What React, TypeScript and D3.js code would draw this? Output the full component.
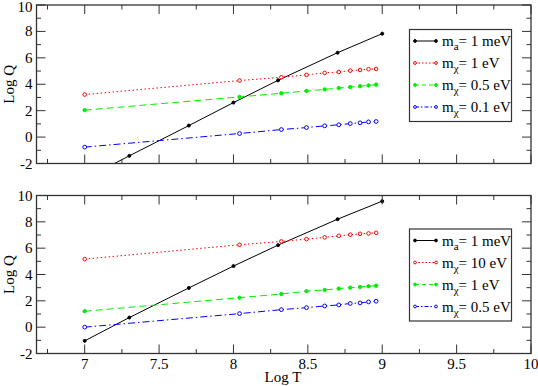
import React from 'react';
import * as d3 from 'd3';

// Log T values for the axion curve and for the chi curves
const axionT = [7, 7.3, 7.7, 8, 8.3, 8.7, 9];
const chiT = [7, 8.041, 8.322, 8.491, 8.613, 8.708, 8.785, 8.851, 8.908, 8.959];

// top panel
const topAxion = [-3.15, -1.42, 0.87, 2.61, 4.3, 6.39, 7.83];
const topChi1 = [3.22, 4.28, 4.53, 4.71, 4.86, 4.93, 5.03, 5.08, 5.14, 5.16];
const topChi05 = [2.04, 3.04, 3.32, 3.49, 3.61, 3.71, 3.79, 3.85, 3.91, 3.97];
const topChi01 = [-0.76, 0.27, 0.57, 0.72, 0.85, 0.93, 1.02, 1.08, 1.15, 1.18];

// bottom panel
const botAxion = [-1.04, 0.73, 2.98, 4.64, 6.23, 8.2, 9.57];
const botChi10 = [5.17, 6.26, 6.51, 6.69, 6.82, 6.94, 7.02, 7.09, 7.12, 7.17];
const botChi1 = [1.21, 2.24, 2.52, 2.73, 2.83, 2.93, 3.0, 3.05, 3.11, 3.15];
const botChi05 = [0.0, 1.03, 1.33, 1.48, 1.61, 1.69, 1.8, 1.84, 1.92, 1.97];

const topLabels = [
  { sub: 'a', rest: '= 1 meV' },
  { sub: 'χ', rest: '= 1 eV' },
  { sub: 'χ', rest: '= 0.5 eV' },
  { sub: 'χ', rest: '= 0.1 eV' },
];
const botLabels = [
  { sub: 'a', rest: '= 1 meV' },
  { sub: 'χ', rest: '= 10 eV' },
  { sub: 'χ', rest: '= 1 eV' },
  { sub: 'χ', rest: '= 0.5 eV' },
];

const xTicks = [7, 7.5, 8, 8.5, 9, 9.5, 10];
const xMinor = [6.75, 7.25, 7.75, 8.25, 8.75, 9.25, 9.75];
const yTicks = [-2, 0, 2, 4, 6, 8, 10];
const yMinor = [-1, 1, 3, 5, 7, 9];

const W = 538;
const H = 386;
const left = 36.5;
const right = 531;
const font = "'Liberation Serif', 'Times New Roman', serif";
const frame = '#333';

const styles = [
  { color: '#000000', dash: '', fill: '#000000', r: 1.5, legDash: '' },
  { color: '#ff0000', dash: '1.5,2.5', fill: '#ffffff', r: 1.8, legDash: '1.5,2' },
  { color: '#00ee00', dash: '7,4', fill: '#00ee00', r: 1.7, legDash: '4,3' },
  { color: '#0000ff', dash: '7,3,1.5,3', fill: '#ffffff', r: 1.9, legDash: '4,2,1.5,2' },
];

const x = d3.scaleLinear().domain([6.676, 10]).range([left, right]);

type PanelProps = {
  id: string;
  top: number;
  bottom: number;
  series: number[][];
  labels: { sub: string; rest: string }[];
  legendTop: number;
  showX: boolean;
};

function Panel({ id, top, bottom, series, labels, legendTop, showX }: PanelProps) {
  const y = d3.scaleLinear().domain([-2, 10]).range([bottom, top]);
  const xs = [axionT, chiT, chiT, chiT];
  const line = d3.line<[number, number]>().x(d => x(d[0])).y(d => y(d[1]));
  const legX = 409.5;
  const legW = 102;
  const step = 22;
  return (
    <g>
      <defs>
        <clipPath id={`clip-${id}`}>
          <rect x={left} y={top} width={right - left} height={bottom - top} />
        </clipPath>
      </defs>
      <g clipPath={`url(#clip-${id})`}>
        {series.map((vals, i) => {
          const pts = vals.map((v, j) => [xs[i][j], v] as [number, number]);
          const s = styles[i];
          return (
            <g key={i}>
              <path d={line(pts) || ''} fill="none" stroke={s.color} strokeWidth={1} strokeDasharray={s.dash} />
              {pts.map((p, j) => (
                <circle key={j} cx={x(p[0])} cy={y(p[1])} r={s.r} fill={s.fill} stroke={s.color} strokeWidth={1} />
              ))}
            </g>
          );
        })}
      </g>
      {/* frame */}
      <rect x={left} y={top} width={right - left} height={bottom - top} fill="none" stroke={frame} strokeWidth={1.3} />
      {xTicks.map(t => (
        <g key={`xt${t}`}>
          <line x1={x(t)} x2={x(t)} y1={bottom} y2={bottom - 9} stroke={frame} />
          <line x1={x(t)} x2={x(t)} y1={top} y2={top + 9} stroke={frame} />
          {showX && (
            <text x={x(t)} y={bottom + 15} textAnchor="middle" fontFamily={font} fontSize={15}>{t}</text>
          )}
        </g>
      ))}
      {xMinor.map(t => (
        <g key={`xm${t}`}>
          <line x1={x(t)} x2={x(t)} y1={bottom} y2={bottom - 4.5} stroke={frame} />
          <line x1={x(t)} x2={x(t)} y1={top} y2={top + 4.5} stroke={frame} />
        </g>
      ))}
      {yTicks.map(t => (
        <g key={`yt${t}`}>
          <line x1={left} x2={left + 9} y1={y(t)} y2={y(t)} stroke={frame} />
          <line x1={right} x2={right - 9} y1={y(t)} y2={y(t)} stroke={frame} />
          <text x={left - 4} y={Math.max(y(t) + 5, 11.5)} textAnchor="end" fontFamily={font} fontSize={15}>{t < 0 ? `-${-t}` : t}</text>
        </g>
      ))}
      {yMinor.map(t => (
        <g key={`ym${t}`}>
          <line x1={left} x2={left + 4.5} y1={y(t)} y2={y(t)} stroke={frame} />
          <line x1={right} x2={right - 4.5} y1={y(t)} y2={y(t)} stroke={frame} />
        </g>
      ))}
      <text transform={`translate(14,${(top + bottom) / 2}) rotate(-90)`} textAnchor="middle" fontFamily={font} fontSize={15}>Log Q</text>
      {/* legend */}
      <rect x={legX} y={legendTop} width={legW} height={step * 4 + 4} fill="#fff" stroke={frame} strokeWidth={1.2} />
      {labels.map((l, i) => {
        const s = styles[i];
        const ly = legendTop + 11.5 + i * step;
        return (
          <g key={i}>
            <line x1={415} x2={436} y1={ly} y2={ly} stroke={s.color} strokeDasharray={s.legDash} />
            <circle cx={415} cy={ly} r={1.4} fill={s.fill} stroke={s.color} />
            <circle cx={436} cy={ly} r={1.4} fill={s.fill} stroke={s.color} />
            <text x={442} y={ly + 5} fontFamily={font} fontSize={15}>
              m<tspan fontSize={11} dy={4}>{l.sub}</tspan><tspan dy={-4}>{l.rest}</tspan>
            </text>
          </g>
        );
      })}
    </g>
  );
}

export default function App() {
  return (
    <svg width={W} height={H} style={{ position: 'absolute', left: 0, top: 0, background: '#fff' }}>
      <Panel id="top" top={5} bottom={163.5} series={[topAxion, topChi1, topChi05, topChi01]} labels={topLabels} legendTop={29.5} showX={false} />
      <Panel id="bot" top={195.5} bottom={353.5} series={[botAxion, botChi10, botChi1, botChi05]} labels={botLabels} legendTop={229} showX={true} />
      <text x={283} y={382} textAnchor="middle" fontFamily={font} fontSize={15}>Log T</text>
    </svg>
  );
}
